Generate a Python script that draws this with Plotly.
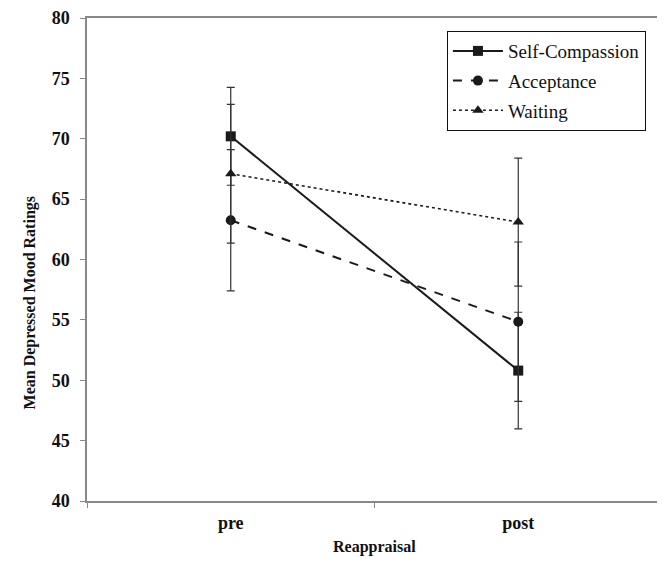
import plotly.graph_objects as go

categories = ["pre", "post"]
series_names = ["Self-Compassion", "Acceptance", "Waiting"]
self_compassion = [70.2, 50.8]
self_compassion_err = [4.05, 4.83]
acceptance = [63.25, 54.85]
acceptance_err = [5.85, 6.6]
waiting = [67.1, 63.1]
waiting_err = [5.75, 5.3]
y_ticks = [40, 45, 50, 55, 60, 65, 70, 75, 80]
x_title = "Reappraisal"
y_title = "Mean Depressed Mood Ratings"

values = [self_compassion, acceptance, waiting]
errors = [self_compassion_err, acceptance_err, waiting_err]
dashes = ["solid", "dash", "dot"]
symbols = ["square", "circle", "triangle-up"]
widths = [2, 2, 1.6]

ink = "#1a1a1a"
serif = "Liberation Serif"

fig = go.Figure()
for i, (name, v, e, d, s, w) in enumerate(zip(series_names, values, errors, dashes, symbols, widths)):
    fig.add_trace(go.Scatter(
        x=categories, y=v, name=name, mode="lines+markers", legendgroup=f"g{i}",
        line=dict(color=ink, width=w, dash=d),
        marker=dict(symbol=s, size=10, color=ink),
        error_y=dict(type="data", array=e, visible=True, color="#333333",
                     thickness=1.2, width=4),
    ))

# page body has an 8px default margin, so the figure is sized to fit the window
fig.update_layout(
    width=657, height=554,
    margin=dict(l=79, r=3, t=10, b=61),
    plot_bgcolor="white", paper_bgcolor="white",
    font=dict(family=serif, color="#111111"),
    showlegend=True,
    legend=dict(
        x=0.626, y=0.973, xanchor="left", yanchor="top",
        bordercolor="#111111", borderwidth=1, bgcolor="white",
        font=dict(family=serif, size=19, color="#111111"),
        itemwidth=50, tracegroupgap=2,
        entrywidth=150, entrywidthmode="pixels",
    ),
    xaxis=dict(
        type="category", range=[-0.5, 1.5], automargin=False,
        showline=True, linecolor="#888888", linewidth=1.5, mirror=True,
        ticks="outside", tickson="boundaries", ticklen=5, tickcolor="#888888",
        showgrid=False, zeroline=False, ticklabelstandoff=5,
        tickfont=dict(family=serif, size=18, color="#111111", weight="bold"),
    ),
    yaxis=dict(
        range=[40, 80], tickvals=y_ticks, automargin=False,
        showline=True, linecolor="#888888", linewidth=1.5, mirror=True,
        ticks="outside", ticklen=5, tickcolor="#888888",
        showgrid=False, zeroline=False, ticklabelstandoff=7,
        tickfont=dict(family=serif, size=18, color="#111111", weight="bold"),
    ),
    annotations=[
        dict(text="<b>" + x_title + "</b>", xref="paper", yref="paper",
             x=0.5, y=-0.095, xanchor="center", yanchor="middle", showarrow=False,
             font=dict(family=serif, size=16, color="#111111")),
        dict(text="<b>" + y_title + "</b>", xref="paper", yref="paper",
             x=-0.1, y=0.41, xanchor="center", yanchor="middle", textangle=-90,
             showarrow=False, font=dict(family=serif, size=16, color="#111111")),
    ],
)

fig.write_html("out.html")
